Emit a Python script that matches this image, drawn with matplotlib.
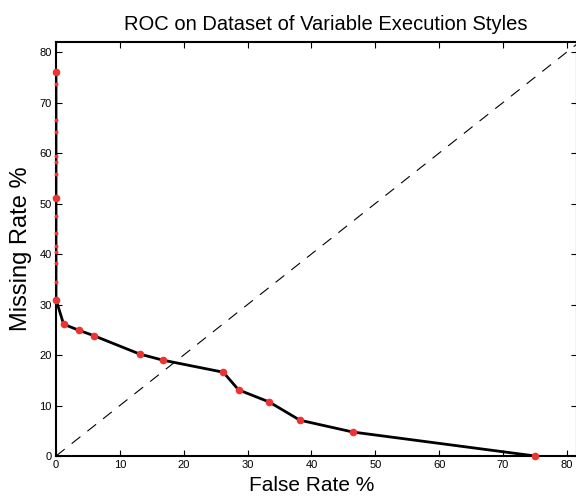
import matplotlib
matplotlib.use("Agg")
import matplotlib.pyplot as plt

plt.rcParams['font.family'] = ['Liberation Sans', 'DejaVu Sans']

# curve points (False Rate %, Missing Rate %)
false_rate = [0, 0, 0, 1.2, 3.6, 6.0, 13.1, 16.7, 26.2, 28.6, 33.4, 38.2, 46.5, 75.1]
missing_rate = [76.1, 51.2, 31.0, 26.1, 24.9, 23.8, 20.2, 19.0, 16.6, 13.1, 10.7, 7.1, 4.75, 0]
# small markers along the y axis
small_y = [73.7, 66.5, 64.2, 59.5, 58.3, 55.8, 47.6, 44.1, 41.6, 40.5, 38.3, 34.5]
small_x = [0] * len(small_y)
ticks = [0, 10, 20, 30, 40, 50, 60, 70, 80]

fig = plt.figure(figsize=(5.76, 4.96), dpi=100)
ax = fig.add_axes([0.0972, 0.0806, 0.9045, 0.8347])

ax.plot([0, 90], [0, 90], color='black', lw=0.8, ls=(0, (10, 8)))
ax.plot(false_rate, missing_rate, color='black', lw=2.0, zorder=3)
ax.plot(small_x, small_y, 'o', color='#ee3333', ms=2.8, mec='none', zorder=4, clip_on=False)
ax.plot(false_rate, missing_rate, 'o', color='#ee3333', ms=5.5, mec='none', zorder=5, clip_on=False)

ax.set_xlim(0, 81.6)
ax.set_ylim(0, 82)
ax.set_xticks(ticks)
ax.set_yticks(ticks)
ax.tick_params(direction='in', top=True, right=True, length=4, width=0.8, labelsize=8, pad=3)
for s in ax.spines.values():
    s.set_linewidth(1.5)

ax.set_xlabel('False Rate %', fontsize=15)
ax.set_ylabel('Missing Rate %', fontsize=17)
ax.xaxis.set_label_coords(0.49, -0.048)
ax.yaxis.set_label_coords(-0.046, 0.5)
ax.set_title('ROC on Dataset of Variable Execution Styles', fontsize=14.5, pad=9, x=0.517)

fig.savefig('out.png', dpi=100)
